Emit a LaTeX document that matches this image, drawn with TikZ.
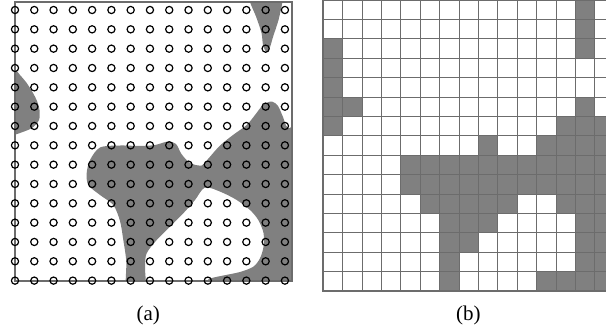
\documentclass[tikz,border=0pt]{standalone}
\usepackage{fontspec}
\setmainfont{Liberation Serif}
\usetikzlibrary{positioning}

\begin{document}
\begin{tikzpicture}[x=1pt, y=-1pt,
  blob/.style={fill=gray, draw=none},
  frame/.style={draw=gray!85!black, line width=1.7pt},
  ring/.style={draw=black, line width=1.2pt},
  cell/.style={fill=gray},
  gridline/.style={draw=gray!85!black, line width=0.9pt},
  edge/.style={draw=gray!85!black, line width=1.8pt},
  lbl/.style={font=\fontsize{21}{25}\selectfont, inner sep=0pt}]
  \useasboundingbox (0,0) rectangle (606,330);
  \clip (0,0) rectangle (606,330);
  % (a)
  \begin{scope}
    \clip (15,1.8) rectangle (292.3,280.7);
    \fill[blob] plot[smooth cycle, tension=0.5] coordinates {
      (246,-15) (250,2) (256,16.5) (261.5,33) (263,45) (266.5,52)
      (270,47) (273,37) (278.5,20) (282.5,2) (286,-15)};
    \fill[blob] plot[smooth cycle, tension=0.5] coordinates {
      (0,65) (15,70) (20,75) (26.7,83) (33,93) (37,101) (39.5,110)
      (39,120) (32,128) (20,133) (14,135) (0,140)};
    \fill[blob] plot[smooth cycle, tension=0.5] coordinates {
      (126.7,295) (126.3,262) (123.3,240) (120,221) (113.3,205) (100,195)
      (88.3,185) (86.7,173) (90,160) (100,147.5) (120,145.5) (140,146)
      (155,145) (168,141.5) (176,144) (181.5,154) (190,163) (201.7,165.5)
      (208,159) (220,145.5) (233,135) (246.7,125) (255,115) (263,105)
      (271.7,101.5) (278,106) (283,117) (288,128) (305,135) (305,295)
      (205,295) (207,281) (212,278) (223.3,275.5) (240,272) (253.3,266.7)
      (260,258.3) (263.5,246.7) (263.5,233) (258.3,220) (250,210)
      (236.7,200) (221,192) (205,187.5) (195,200) (183.3,213.3)
      (170,226.7) (156.7,240) (146.7,253.3) (145,266.7) (145,295)};
  \end{scope}
  \draw[frame] (15,1.8) rectangle (292.3,280.7);
  \foreach \i in {0,...,14}
    \foreach \j in {0,...,14}
      \draw[ring] ({15+19.28*\i},{10+19.33*\j}) circle[radius=3.6pt];
  % (b)
  \foreach \r/\cols in {0/{13}, 1/{13}, 2/{0,13}, 3/{0}, 4/{0}, 5/{0,1,13},
      6/{0,12,13,14}, 7/{8,11,12,13,14}, 8/{4,...,14}, 9/{4,...,14},
      10/{5,6,7,8,9,12,13,14}, 11/{6,7,8,13,14}, 12/{6,7,13,14},
      13/{6,13,14}, 14/{6,11,12,13,14}}
    \foreach \c in \cols
      \fill[cell] ({323.3+19.4*\c},{19.4*\r}) rectangle +(19.4,19.4);
  \foreach \k in {0,...,15} {
    \draw[gridline] ({323.3+19.4*\k},0) -- ++(0,291);
    \draw[gridline] (323.3,{19.4*\k}) -- ++(291,0);
  }
  \draw[edge] (323.3,0) -- (323.3,291) -- (614.4,291);
  \node[lbl] (capa) at (148.3,315.8) {(a)};
  \node[lbl] (capb) at (468.3,315.8) {(b)};
\end{tikzpicture}
\end{document}
